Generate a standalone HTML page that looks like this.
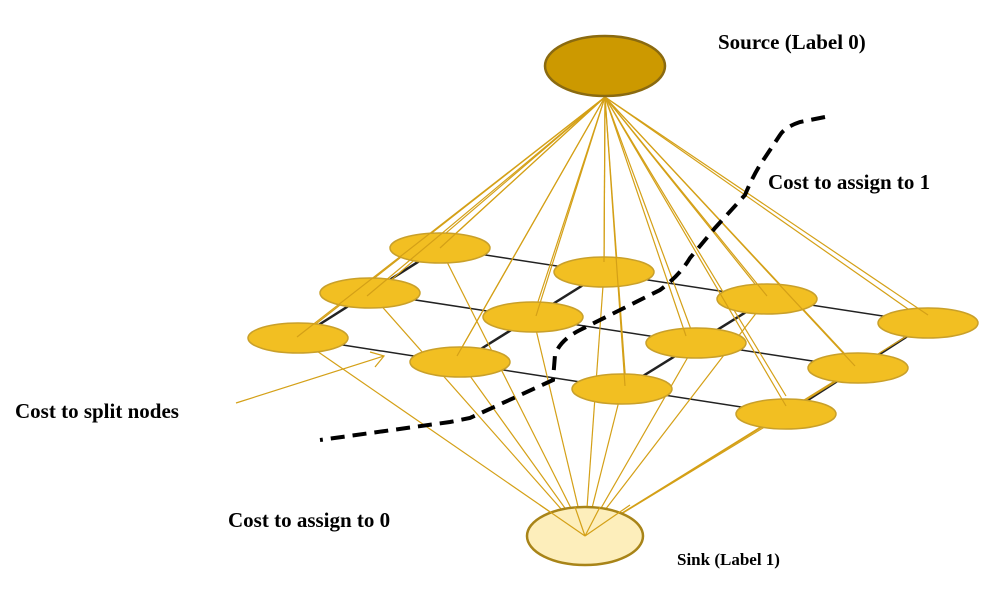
<!DOCTYPE html>
<html><head><style>body{margin:0;background:#fff}</style></head><body>
<svg width="1006" height="589" viewBox="0 0 1006 589" xmlns="http://www.w3.org/2000/svg" font-family="Liberation Serif, serif" font-weight="bold">
<g stroke="#222" stroke-width="1.5">
<line x1="440" y1="248" x2="928" y2="323"/><line x1="370" y1="293" x2="858" y2="368"/><line x1="298" y1="338" x2="786" y2="414"/>
</g>
<g stroke="#222" stroke-width="2.5">
<line x1="298" y1="338" x2="440" y2="248"/><line x1="460" y1="362" x2="604" y2="272"/><line x1="622" y1="389" x2="767" y2="299"/><line x1="786" y1="414" x2="928" y2="323"/>
</g>
<g stroke="#d4a017" stroke-width="1.2">
<line x1="605" y1="97" x2="440" y2="248"/><line x1="605" y1="97" x2="604" y2="272"/><line x1="605" y1="97" x2="767" y2="299"/><line x1="605" y1="97" x2="928" y2="323"/>
<line x1="605" y1="97" x2="370" y2="298"/><line x1="605" y1="97" x2="533" y2="317"/><line x1="605" y1="97" x2="696" y2="343"/><line x1="605" y1="97" x2="858" y2="368"/>
<line x1="605" y1="97" x2="298" y2="338"/><line x1="605" y1="97" x2="457" y2="356"/><line x1="605" y1="97" x2="626" y2="386"/><line x1="605" y1="97" x2="786" y2="396"/>
<line x1="585" y1="536" x2="440" y2="248"/><line x1="585" y1="536" x2="604" y2="272"/><line x1="585" y1="536" x2="767" y2="299"/><line x1="585" y1="536" x2="928" y2="323"/>
<line x1="585" y1="536" x2="370" y2="293"/><line x1="585" y1="536" x2="533" y2="317"/><line x1="585" y1="536" x2="696" y2="343"/><line x1="585" y1="536" x2="858" y2="368"/>
<line x1="585" y1="536" x2="298" y2="338"/><line x1="585" y1="536" x2="460" y2="362"/><line x1="585" y1="536" x2="622" y2="389"/><line x1="585" y1="536" x2="786" y2="414"/>
<line x1="236" y1="403" x2="384" y2="356"/><polyline points="370,352 384,356 375,367" fill="none"/>
</g>
<g fill="#f2bf22" stroke="#c9a02a" stroke-width="1.5">
<ellipse cx="440" cy="248" rx="50" ry="15"/><ellipse cx="604" cy="272" rx="50" ry="15"/><ellipse cx="767" cy="299" rx="50" ry="15"/><ellipse cx="928" cy="323" rx="50" ry="15"/>
<ellipse cx="370" cy="293" rx="50" ry="15"/><ellipse cx="533" cy="317" rx="50" ry="15"/><ellipse cx="696" cy="343" rx="50" ry="15"/><ellipse cx="858" cy="368" rx="50" ry="15"/>
<ellipse cx="298" cy="338" rx="50" ry="15"/><ellipse cx="460" cy="362" rx="50" ry="15"/><ellipse cx="622" cy="389" rx="50" ry="15"/><ellipse cx="786" cy="414" rx="50" ry="15"/>
</g>
<g stroke="#d4a017" stroke-width="1.2">
<line x1="605" y1="97" x2="440" y2="248"/><line x1="605" y1="97" x2="604" y2="262"/><line x1="605" y1="97" x2="767" y2="296"/><line x1="605" y1="97" x2="928" y2="315"/>
<line x1="605" y1="97" x2="367" y2="296"/><line x1="605" y1="97" x2="536" y2="316"/><line x1="605" y1="97" x2="686" y2="336"/><line x1="605" y1="97" x2="855" y2="366"/>
<line x1="605" y1="97" x2="297" y2="337"/><line x1="605" y1="97" x2="457" y2="356"/><line x1="605" y1="97" x2="625" y2="386"/><line x1="605" y1="97" x2="786" y2="406"/>
</g>
<ellipse cx="605" cy="66" rx="60" ry="30" fill="#cc9900" stroke="#8a6a10" stroke-width="2.5"/>
<ellipse cx="585" cy="536" rx="58" ry="29" fill="#fdeebb" stroke="#a88418" stroke-width="2.5"/>
<g stroke="#d4a017" stroke-width="1.2">
<line x1="585" y1="536" x2="540" y2="505"/><line x1="585" y1="536" x2="630" y2="505"/><line x1="585" y1="536" x2="575" y2="507"/><line x1="585" y1="536" x2="600" y2="507"/>
</g>
<path d="M825,117 L800,122 Q785,127 780,135 L760,165 Q752,178 745,195 L715,228 L690,258 Q680,275 660,290 L620,310 L580,330 Q560,340 555,355 L553,380 L470,418 L450,422 L320,440" fill="none" stroke="#000" stroke-width="4" stroke-dasharray="14,8"/>
<g fill="#000" font-size="21">
<text x="718" y="49">Source (Label 0)</text>
<text x="768" y="189">Cost to assign to 1</text>
<text x="15" y="418">Cost to split nodes</text>
<text x="228" y="527">Cost to assign to 0</text>
<text x="677" y="565" font-size="17">Sink (Label 1)</text>
</g>
</svg>
</body></html>
